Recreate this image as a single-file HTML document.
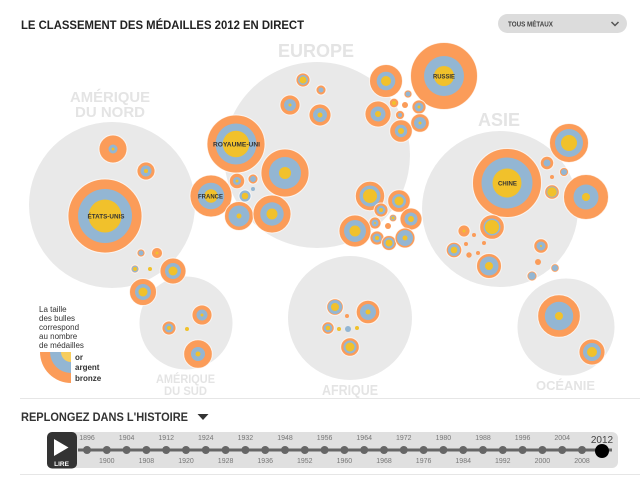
<!DOCTYPE html>
<html><head><meta charset="utf-8"><style>
html,body{margin:0;padding:0;background:#fff;}
svg{display:block;font-family:"Liberation Sans",sans-serif;}
.b{stroke:#fff;stroke-width:1;stroke-opacity:.75}
</style></head><body>
<svg width="640" height="480" viewBox="0 0 640 480" xmlns="http://www.w3.org/2000/svg">
<!-- title -->
<text x="21" y="29" font-size="11.5" font-weight="bold" fill="#222" textLength="283" lengthAdjust="spacingAndGlyphs">LE CLASSEMENT DES MÉDAILLES 2012 EN DIRECT</text>
<!-- dropdown -->
<rect x="498" y="14" width="129" height="19" rx="9.5" fill="#dcdcdc"/>
<text x="508" y="26.5" font-size="7" font-weight="bold" fill="#444" textLength="45" lengthAdjust="spacingAndGlyphs">TOUS MÉTAUX</text>
<polyline points="611.5,22 615,25.5 618.5,22" fill="none" stroke="#555" stroke-width="1.5"/>

<!-- continents -->
<g fill="#e9e9e9">
<circle cx="112" cy="205" r="83"/>
<circle cx="317" cy="155" r="93"/>
<circle cx="500" cy="209" r="78"/>
<circle cx="186" cy="323" r="46.5"/>
<circle cx="350" cy="318" r="62"/>
<circle cx="566" cy="327" r="48.5"/>
</g>
<g fill="#e4e4e4" font-weight="bold" text-anchor="middle">
<text x="316" y="57" font-size="18" textLength="76" lengthAdjust="spacingAndGlyphs">EUROPE</text>
<text x="110" y="102" font-size="15" textLength="80" lengthAdjust="spacingAndGlyphs">AMÉRIQUE</text>
<text x="110" y="117" font-size="15" textLength="70" lengthAdjust="spacingAndGlyphs">DU NORD</text>
<text x="499" y="126" font-size="18" textLength="42" lengthAdjust="spacingAndGlyphs">ASIE</text>
<text x="185.5" y="383" font-size="11.5" textLength="59" lengthAdjust="spacingAndGlyphs">AMÉRIQUE</text>
<text x="185.5" y="395" font-size="11.5" textLength="43" lengthAdjust="spacingAndGlyphs">DU SUD</text>
<text x="350" y="395" font-size="15" textLength="56" lengthAdjust="spacingAndGlyphs">AFRIQUE</text>
<text x="565.5" y="390" font-size="13" textLength="59" lengthAdjust="spacingAndGlyphs">OCÉANIE</text>
</g>

<!-- bubbles -->
<g>
<!-- North America -->
<circle class="b" cx="105" cy="216" r="37" fill="#fb9c59"/><circle cx="105" cy="216" r="27" fill="#93b6d3"/><circle cx="105" cy="216" r="16.5" fill="#f1c12b"/>
<circle class="b" cx="113" cy="149" r="14" fill="#fb9c59"/><circle cx="113" cy="149" r="4.5" fill="#93b6d3"/><circle cx="113" cy="149" r="1.5" fill="#f1c12b"/>
<circle class="b" cx="146" cy="171" r="9" fill="#fb9c59"/><circle cx="146" cy="171" r="5.5" fill="#93b6d3"/><circle cx="146" cy="171" r="2" fill="#f1c12b"/>
<circle class="b" cx="141" cy="253" r="4" fill="#fb9c59"/><circle cx="141" cy="253" r="2.5" fill="#93b6d3"/>
<circle class="b" cx="157" cy="253" r="5.5" fill="#fb9c59"/><circle cx="157" cy="253" r="1.5" fill="#f1c12b"/>
<circle class="b" cx="135" cy="269" r="4" fill="#fb9c59"/><circle cx="135" cy="269" r="3.3" fill="#93b6d3"/><circle cx="135" cy="269" r="2" fill="#f1c12b"/>
<circle cx="150" cy="269" r="2" fill="#f1c12b"/>
<circle class="b" cx="173" cy="271" r="13" fill="#fb9c59"/><circle cx="173" cy="271" r="8" fill="#93b6d3"/><circle cx="173" cy="271" r="4.5" fill="#f1c12b"/>
<circle class="b" cx="143" cy="292" r="13.5" fill="#fb9c59"/><circle cx="143" cy="292" r="8" fill="#93b6d3"/><circle cx="143" cy="292" r="4.5" fill="#f1c12b"/>
<!-- South America -->
<circle class="b" cx="202" cy="315" r="10" fill="#fb9c59"/><circle cx="202" cy="315" r="5.5" fill="#93b6d3"/><circle cx="202" cy="315" r="1.5" fill="#f1c12b"/>
<circle class="b" cx="169" cy="328" r="7" fill="#fb9c59"/><circle cx="169" cy="328" r="4.5" fill="#93b6d3"/><circle cx="169" cy="328" r="2" fill="#f1c12b"/>
<circle cx="187" cy="329" r="2" fill="#f1c12b"/>
<circle class="b" cx="198" cy="354" r="14.3" fill="#fb9c59"/><circle cx="198" cy="354" r="7" fill="#93b6d3"/><circle cx="198" cy="354" r="2.5" fill="#f1c12b"/>
<!-- Europe -->
<circle class="b" cx="236" cy="144" r="29" fill="#fb9c59"/><circle cx="236" cy="144" r="20.5" fill="#93b6d3"/><circle cx="236" cy="144" r="13.3" fill="#f1c12b"/>
<circle class="b" cx="211" cy="196" r="21" fill="#fb9c59"/><circle cx="211" cy="196" r="13.3" fill="#93b6d3"/><circle cx="211" cy="196" r="6.7" fill="#f1c12b"/>
<circle class="b" cx="285" cy="173" r="24" fill="#fb9c59"/><circle cx="285" cy="173" r="16" fill="#93b6d3"/><circle cx="285" cy="173" r="6" fill="#f1c12b"/>
<circle class="b" cx="239" cy="216" r="14.5" fill="#fb9c59"/><circle cx="239" cy="216" r="10.5" fill="#93b6d3"/><circle cx="239" cy="216" r="2.5" fill="#f1c12b"/>
<circle class="b" cx="272" cy="214" r="19" fill="#fb9c59"/><circle cx="272" cy="214" r="11.7" fill="#93b6d3"/><circle cx="272" cy="214" r="5.5" fill="#f1c12b"/>
<circle class="b" cx="237" cy="181" r="7.7" fill="#fb9c59"/><circle cx="237" cy="181" r="4" fill="#93b6d3"/><circle cx="237" cy="181" r="1.5" fill="#f1c12b"/>
<circle class="b" cx="253" cy="179" r="5" fill="#fb9c59"/><circle cx="253" cy="179" r="3" fill="#93b6d3"/>
<circle class="b" cx="245" cy="196" r="6" fill="#93b6d3"/><circle cx="245" cy="196" r="3.3" fill="#f1c12b"/>
<circle cx="253" cy="189" r="2" fill="#93b6d3"/>
<circle class="b" cx="303" cy="80" r="7" fill="#fb9c59"/><circle cx="303" cy="80" r="5" fill="#93b6d3"/><circle cx="303" cy="80" r="3.5" fill="#f1c12b"/>
<circle class="b" cx="321" cy="90" r="5" fill="#fb9c59"/><circle cx="321" cy="90" r="2.5" fill="#93b6d3"/>
<circle class="b" cx="290" cy="105" r="10" fill="#fb9c59"/><circle cx="290" cy="105" r="6" fill="#93b6d3"/><circle cx="290" cy="105" r="1.5" fill="#f1c12b"/>
<circle class="b" cx="320" cy="115" r="11" fill="#fb9c59"/><circle cx="320" cy="115" r="7" fill="#93b6d3"/><circle cx="320" cy="115" r="2.5" fill="#f1c12b"/>
<!-- Balkan cluster -->
<circle class="b" cx="370" cy="196" r="14.7" fill="#fb9c59"/><circle cx="370" cy="196" r="10.5" fill="#93b6d3"/><circle cx="370" cy="196" r="7" fill="#f1c12b"/>
<circle class="b" cx="399" cy="201" r="11.3" fill="#fb9c59"/><circle cx="399" cy="201" r="7" fill="#93b6d3"/><circle cx="399" cy="201" r="4.5" fill="#f1c12b"/>
<circle class="b" cx="381" cy="210" r="7" fill="#fb9c59"/><circle cx="381" cy="210" r="4.5" fill="#93b6d3"/><circle cx="381" cy="210" r="2" fill="#f1c12b"/>
<circle class="b" cx="393" cy="218" r="3.8" fill="#fb9c59"/><circle cx="393" cy="218" r="2.5" fill="#93b6d3"/><circle cx="393" cy="218" r="1.5" fill="#f1c12b"/>
<circle class="b" cx="411" cy="219" r="11" fill="#fb9c59"/><circle cx="411" cy="219" r="6.5" fill="#93b6d3"/><circle cx="411" cy="219" r="3" fill="#f1c12b"/>
<circle class="b" cx="375" cy="223" r="6" fill="#fb9c59"/><circle cx="375" cy="223" r="3.5" fill="#93b6d3"/><circle cx="375" cy="223" r="1" fill="#f1c12b"/>
<circle cx="388" cy="226" r="3" fill="#fb9c59"/>
<circle class="b" cx="355" cy="231" r="16" fill="#fb9c59"/><circle cx="355" cy="231" r="11" fill="#93b6d3"/><circle cx="355" cy="231" r="5.5" fill="#f1c12b"/>
<circle class="b" cx="377" cy="238" r="7" fill="#fb9c59"/><circle cx="377" cy="238" r="4.5" fill="#93b6d3"/><circle cx="377" cy="238" r="2" fill="#f1c12b"/>
<circle class="b" cx="389" cy="243" r="7.5" fill="#fb9c59"/><circle cx="389" cy="243" r="5.5" fill="#93b6d3"/><circle cx="389" cy="243" r="3.5" fill="#f1c12b"/>
<circle class="b" cx="405" cy="238" r="10" fill="#fb9c59"/><circle cx="405" cy="238" r="8" fill="#93b6d3"/><circle cx="405" cy="238" r="2.5" fill="#f1c12b"/>
<!-- Russia area -->
<circle class="b" cx="444" cy="76" r="33.5" fill="#fb9c59"/><circle cx="444" cy="76" r="20" fill="#93b6d3"/><circle cx="444" cy="76" r="10" fill="#f1c12b"/>
<circle class="b" cx="386" cy="81" r="16.5" fill="#fb9c59"/><circle cx="386" cy="81" r="9.3" fill="#93b6d3"/><circle cx="386" cy="81" r="5" fill="#f1c12b"/>
<circle class="b" cx="408" cy="94" r="4" fill="#fb9c59"/><circle cx="408" cy="94" r="2.5" fill="#93b6d3"/>
<circle class="b" cx="394" cy="103" r="4.7" fill="#fb9c59"/><circle cx="394" cy="103" r="2" fill="#f1c12b"/>
<circle cx="405" cy="105" r="3" fill="#fb9c59"/>
<circle class="b" cx="419" cy="107" r="7" fill="#fb9c59"/><circle cx="419" cy="107" r="4.5" fill="#93b6d3"/><circle cx="419" cy="107" r="1.5" fill="#f1c12b"/>
<circle class="b" cx="378" cy="114" r="13" fill="#fb9c59"/><circle cx="378" cy="114" r="7.5" fill="#93b6d3"/><circle cx="378" cy="114" r="3" fill="#f1c12b"/>
<circle class="b" cx="400" cy="115" r="4.5" fill="#fb9c59"/><circle cx="400" cy="115" r="2" fill="#93b6d3"/>
<circle class="b" cx="420" cy="123" r="9.3" fill="#fb9c59"/><circle cx="420" cy="123" r="6" fill="#93b6d3"/><circle cx="420" cy="123" r="1.5" fill="#f1c12b"/>
<circle class="b" cx="401" cy="131" r="11.3" fill="#fb9c59"/><circle cx="401" cy="131" r="6.2" fill="#93b6d3"/><circle cx="401" cy="131" r="3" fill="#f1c12b"/>
<!-- Asia -->
<circle class="b" cx="507" cy="183" r="34.5" fill="#fb9c59"/><circle cx="507" cy="183" r="25.5" fill="#93b6d3"/><circle cx="507" cy="183" r="14.5" fill="#f1c12b"/>
<circle class="b" cx="569" cy="143" r="19.5" fill="#fb9c59"/><circle cx="569" cy="143" r="14" fill="#93b6d3"/><circle cx="569" cy="143" r="8" fill="#f1c12b"/>
<circle class="b" cx="586" cy="197" r="22.5" fill="#fb9c59"/><circle cx="586" cy="197" r="12.5" fill="#93b6d3"/><circle cx="586" cy="197" r="4" fill="#f1c12b"/>
<circle class="b" cx="547" cy="163" r="6.7" fill="#fb9c59"/><circle cx="547" cy="163" r="3.5" fill="#93b6d3"/>
<circle class="b" cx="564" cy="172" r="4.5" fill="#fb9c59"/><circle cx="564" cy="172" r="3" fill="#93b6d3"/>
<circle cx="552" cy="177" r="2" fill="#fb9c59"/>
<circle class="b" cx="552" cy="192" r="7.3" fill="#fb9c59"/><circle cx="552" cy="192" r="5.5" fill="#93b6d3"/><circle cx="552" cy="192" r="4.8" fill="#f1c12b"/>
<circle class="b" cx="492" cy="227" r="12.3" fill="#fb9c59"/><circle cx="492" cy="227" r="8.5" fill="#93b6d3"/><circle cx="492" cy="227" r="7" fill="#f1c12b"/>
<circle class="b" cx="464" cy="231" r="6" fill="#fb9c59"/><circle cx="464" cy="231" r="1.5" fill="#f1c12b"/>
<circle cx="474" cy="235" r="2" fill="#fb9c59"/>
<circle cx="484" cy="243" r="2" fill="#fb9c59"/>
<circle cx="466" cy="244" r="2" fill="#fb9c59"/>
<circle class="b" cx="454" cy="250" r="7.8" fill="#fb9c59"/><circle cx="454" cy="250" r="6" fill="#93b6d3"/><circle cx="454" cy="250" r="3.3" fill="#f1c12b"/>
<circle cx="469" cy="255" r="2.7" fill="#fb9c59"/>
<circle cx="478" cy="253" r="2" fill="#fb9c59"/>
<circle class="b" cx="489" cy="266" r="12.5" fill="#fb9c59"/><circle cx="489" cy="266" r="9.5" fill="#93b6d3"/><circle cx="489" cy="266" r="4" fill="#f1c12b"/>
<circle class="b" cx="541" cy="246" r="7.2" fill="#fb9c59"/><circle cx="541" cy="246" r="4.5" fill="#93b6d3"/><circle cx="541" cy="246" r="1" fill="#f1c12b"/>
<circle cx="538" cy="262" r="3" fill="#fb9c59"/>
<circle class="b" cx="555" cy="268" r="4.2" fill="#fb9c59"/><circle cx="555" cy="268" r="3" fill="#93b6d3"/>
<circle class="b" cx="532" cy="276" r="5" fill="#fb9c59"/><circle cx="532" cy="276" r="3.7" fill="#93b6d3"/>
<!-- Africa -->
<circle class="b" cx="335" cy="307" r="8.3" fill="#fb9c59"/><circle cx="335" cy="307" r="7" fill="#93b6d3"/><circle cx="335" cy="307" r="4" fill="#f1c12b"/>
<circle class="b" cx="368" cy="312" r="11.8" fill="#fb9c59"/><circle cx="368" cy="312" r="8" fill="#93b6d3"/><circle cx="368" cy="312" r="2.5" fill="#f1c12b"/>
<circle cx="347" cy="316" r="2" fill="#fb9c59"/>
<circle class="b" cx="328" cy="328" r="6.2" fill="#fb9c59"/><circle cx="328" cy="328" r="4.3" fill="#93b6d3"/><circle cx="328" cy="328" r="2.3" fill="#f1c12b"/>
<circle cx="339" cy="329" r="2" fill="#f1c12b"/>
<circle cx="348" cy="329" r="3" fill="#93b6d3"/>
<circle cx="357" cy="328" r="2" fill="#f1c12b"/>
<circle class="b" cx="350" cy="347" r="9.3" fill="#fb9c59"/><circle cx="350" cy="347" r="6.5" fill="#93b6d3"/><circle cx="350" cy="347" r="4.5" fill="#f1c12b"/>
<!-- Oceania -->
<circle class="b" cx="559" cy="316" r="21.3" fill="#fb9c59"/><circle cx="559" cy="316" r="14.2" fill="#93b6d3"/><circle cx="559" cy="316" r="4" fill="#f1c12b"/>
<circle class="b" cx="592" cy="352" r="13" fill="#fb9c59"/><circle cx="592" cy="352" r="9" fill="#93b6d3"/><circle cx="592" cy="352" r="5" fill="#f1c12b"/>
</g>

<!-- country labels -->
<g font-size="6.5" font-weight="bold" fill="#333" text-anchor="middle">
<text x="106" y="218.5" textLength="37" lengthAdjust="spacingAndGlyphs">ÉTATS-UNIS</text>
<text x="236.5" y="146.3" textLength="47" lengthAdjust="spacingAndGlyphs">ROYAUME-UNI</text>
<text x="210.5" y="198.3" textLength="25" lengthAdjust="spacingAndGlyphs">FRANCE</text>
<text x="444" y="78.3" textLength="22" lengthAdjust="spacingAndGlyphs">RUSSIE</text>
<text x="507.5" y="185.3" textLength="19" lengthAdjust="spacingAndGlyphs">CHINE</text>
</g>

<!-- legend -->
<g font-size="8" fill="#333">
<text x="39" y="312">La taille</text>
<text x="39" y="321">des bulles</text>
<text x="39" y="330">correspond</text>
<text x="39" y="339">au nombre</text>
<text x="39" y="348">de médailles</text>
</g>
<path d="M71,352 L71,383 A31,31 0 0 1 40,352 Z" fill="#fb9c59"/>
<path d="M71,352 L71,373 A21,21 0 0 1 50,352 Z" fill="#93b6d3"/>
<path d="M71,352 L71,362 A10,10 0 0 1 61,352 Z" fill="#f7cd5e"/>
<g font-size="8" font-weight="bold" fill="#333">
<text x="75" y="360">or</text>
<text x="75" y="370">argent</text>
<text x="75" y="381">bronze</text>
</g>

<!-- separators -->
<line x1="20" y1="398.5" x2="640" y2="398.5" stroke="#e6e6e6" stroke-width="1"/>
<line x1="20" y1="474.5" x2="640" y2="474.5" stroke="#e6e6e6" stroke-width="1"/>

<!-- history -->
<text x="21" y="421" font-size="12" font-weight="bold" fill="#333" textLength="167" lengthAdjust="spacingAndGlyphs">REPLONGEZ DANS L'HISTOIRE</text>
<polygon points="197.5,414 208.5,414 203,420" fill="#333"/>

<rect x="47" y="432" width="571" height="36" rx="6" fill="#e0e0e0"/>
<line x1="78" y1="450" x2="612" y2="450" stroke="#666" stroke-width="3"/>
<g fill="#666">
<circle cx="87" cy="450" r="4"/><circle cx="106.8" cy="450" r="4"/><circle cx="126.6" cy="450" r="4"/><circle cx="146.4" cy="450" r="4"/><circle cx="166.2" cy="450" r="4"/><circle cx="186" cy="450" r="4"/><circle cx="205.8" cy="450" r="4"/><circle cx="225.6" cy="450" r="4"/><circle cx="245.4" cy="450" r="4"/><circle cx="265.2" cy="450" r="4"/><circle cx="285" cy="450" r="4"/><circle cx="304.8" cy="450" r="4"/><circle cx="324.6" cy="450" r="4"/><circle cx="344.4" cy="450" r="4"/><circle cx="364.2" cy="450" r="4"/><circle cx="384" cy="450" r="4"/><circle cx="403.8" cy="450" r="4"/><circle cx="423.6" cy="450" r="4"/><circle cx="443.4" cy="450" r="4"/><circle cx="463.2" cy="450" r="4"/><circle cx="483" cy="450" r="4"/><circle cx="502.8" cy="450" r="4"/><circle cx="522.6" cy="450" r="4"/><circle cx="542.4" cy="450" r="4"/><circle cx="562.2" cy="450" r="4"/><circle cx="582" cy="450" r="4"/>
</g>
<circle cx="602" cy="451" r="7" fill="#000"/>
<g font-size="7" fill="#777" text-anchor="middle">
<text x="87" y="440">1896</text><text x="126.6" y="440">1904</text><text x="166.2" y="440">1912</text><text x="205.8" y="440">1924</text><text x="245.4" y="440">1932</text><text x="285" y="440">1948</text><text x="324.6" y="440">1956</text><text x="364.2" y="440">1964</text><text x="403.8" y="440">1972</text><text x="443.4" y="440">1980</text><text x="483" y="440">1988</text><text x="522.6" y="440">1996</text><text x="562.2" y="440">2004</text>
<text x="106.8" y="463">1900</text><text x="146.4" y="463">1908</text><text x="186" y="463">1920</text><text x="225.6" y="463">1928</text><text x="265.2" y="463">1936</text><text x="304.8" y="463">1952</text><text x="344.4" y="463">1960</text><text x="384" y="463">1968</text><text x="423.6" y="463">1976</text><text x="463.2" y="463">1984</text><text x="502.8" y="463">1992</text><text x="542.4" y="463">2000</text><text x="582" y="463">2008</text>
</g>
<text x="602" y="443" font-size="10" fill="#444" text-anchor="middle">2012</text>

<!-- play button -->
<rect x="47" y="432" width="30" height="36.5" rx="5" fill="#333"/>
<polygon points="54,439 54,456 68.5,447.5" fill="#fff"/>
<text x="61.5" y="466" font-size="6.5" font-weight="bold" fill="#fff" text-anchor="middle">LIRE</text>
</svg>
</body></html>
